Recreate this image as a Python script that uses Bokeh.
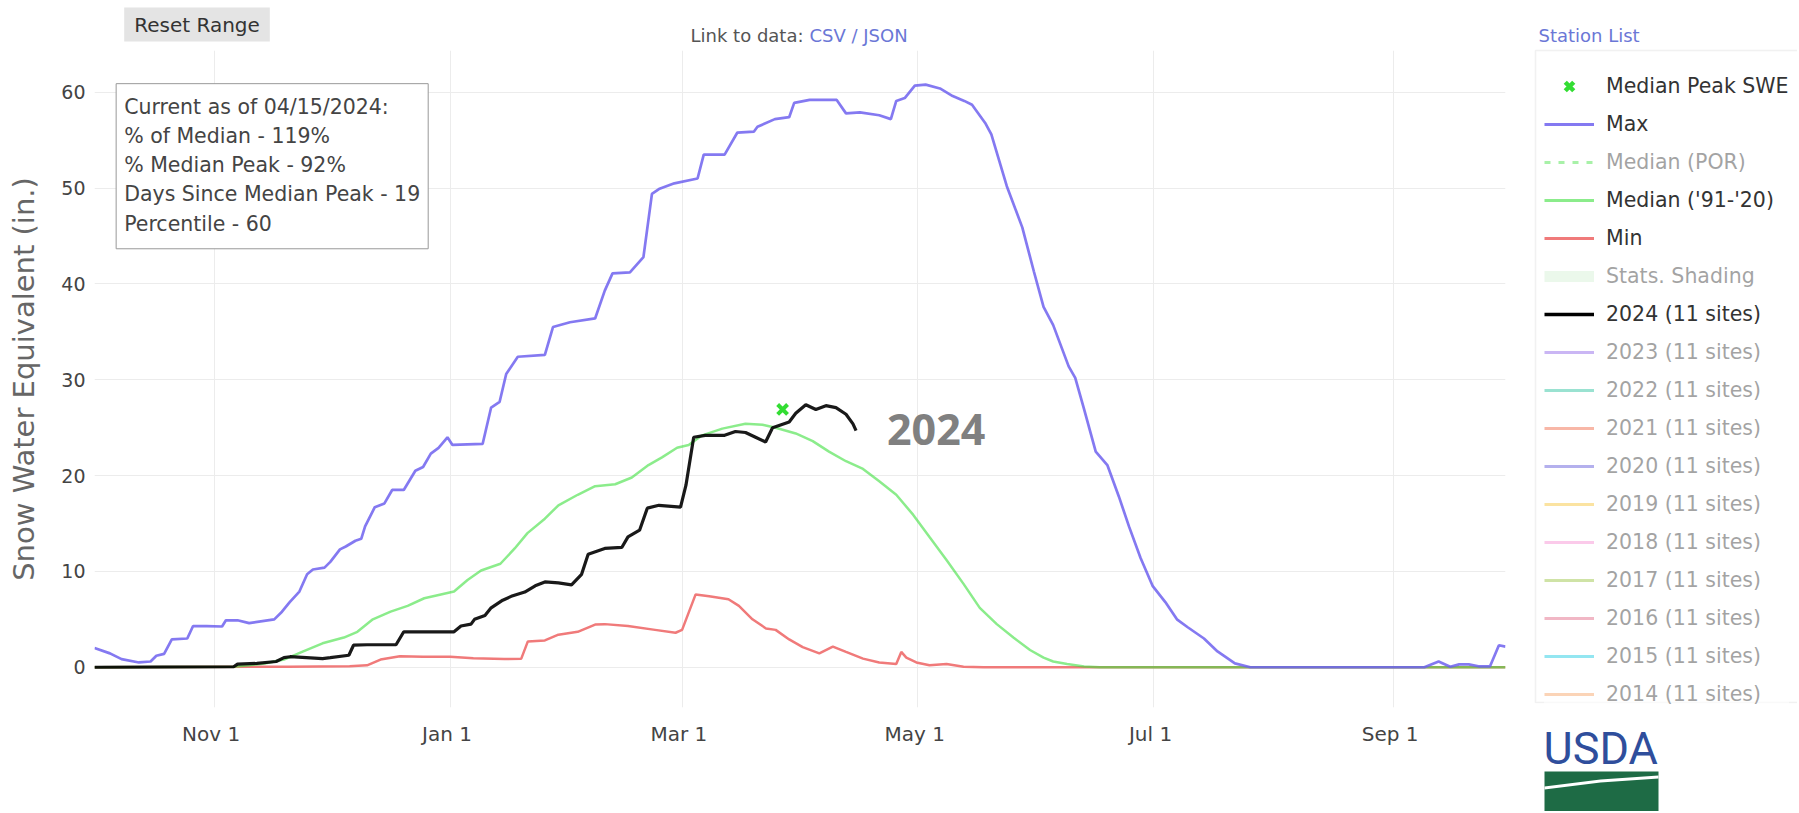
import math
import pandas as pd
from bokeh.plotting import figure
from bokeh.layouts import column, row
from bokeh.models import (Legend, LegendItem, Label, BoxAnnotation, PolyAnnotation, Range1d,
                          MonthsTicker, SingleIntervalTicker, DatetimeTickFormatter)
from bokeh.embed import file_html
from bokeh.resources import INLINE

# ---------------- data (days since start of water year, SWE in inches) ----------------
WY_START = "2023-10-01"
WY_END = "2024-09-30"

max_day = [0, 4, 7, 11.5, 14.5, 16, 18, 20, 24, 25.5, 29, 33, 34, 37, 40, 46.5, 48.5, 50.5, 53, 55,
           56.5, 59.5, 61, 63.5, 65, 67.5, 69, 70, 72.5, 75, 77, 80, 83, 85, 87, 89, 91.3, 92.6,
           100.4, 102.6, 104.8, 106.5, 109.5, 116.5, 118.6, 123, 129.5, 132, 134, 138.5, 142,
           144.2, 146, 150, 156, 157.6, 163, 166.3, 170.6, 171.5, 176, 179.7, 181, 185, 192,
           194.4, 198, 203, 206, 207.4, 209.6, 212.2, 215, 218.7, 222, 225, 227, 230.4, 232, 236,
           240, 243, 245.5, 248, 252, 253.7, 256, 259, 262, 265, 267.6, 270.6, 273.7, 277, 280,
           282.7, 287, 290.5, 295, 299, 344, 347.7, 350.7, 353, 355.5, 358, 361, 363.3, 365]
max_swe = [2.0, 1.45, 0.85, 0.5, 0.6, 1.2, 1.4, 2.9, 3.0, 4.3, 4.3, 4.25, 4.9, 4.9, 4.6, 5.0, 5.8,
           6.8, 7.9, 9.7, 10.2, 10.4, 11.0, 12.3, 12.6, 13.2, 13.4, 14.7, 16.7, 17.1, 18.5, 18.5,
           20.5, 20.9, 22.3, 22.9, 24.0, 23.2, 23.3, 27.1, 27.7, 30.6, 32.4, 32.6, 35.5, 36.0,
           36.4, 39.3, 41.1, 41.2, 42.8, 49.4, 49.9, 50.5, 51.0, 53.5, 53.5, 55.8, 55.9, 56.4,
           57.2, 57.4, 58.9, 59.2, 59.2, 57.8, 57.9, 57.6, 57.2, 59.1, 59.4, 60.7, 60.8, 60.4,
           59.6, 59.1, 58.7, 56.8, 55.6, 50.2, 45.9, 41.3, 37.6, 35.7, 31.4, 30.2, 26.9, 22.5,
           21.1, 17.8, 14.7, 11.4, 8.5, 6.8, 5.0, 4.2, 3.0, 1.65, 0.4, 0, 0, 0.6, 0.05, 0.3, 0.3,
           0.1, 0.1, 2.3, 2.15]

median_day = [0, 36, 40, 44, 49, 54, 59, 64.5, 68, 72, 76.6, 81, 85.3, 89.6, 93, 96.5, 100, 105,
              108.7, 112, 116.5, 120, 125, 129.5, 134.7, 139, 143.3, 146.8, 150.7, 153.7, 157.2,
              162.4, 168.4, 172.8, 176.2, 181.4, 185.8, 190, 194.4, 198.8, 203, 207.4, 211.8, 216,
              220.4, 224.8, 229, 233.4, 237.7, 242, 245.5, 248, 251.6, 256, 260, 365]
median_swe = [0, 0.05, 0.2, 0.4, 0.8, 1.65, 2.5, 3.1, 3.7, 5.0, 5.8, 6.4, 7.2, 7.6, 7.9, 9.1, 10.1,
              10.8, 12.4, 14.0, 15.5, 16.9, 18.0, 18.9, 19.1, 19.8, 21.1, 21.9, 22.9, 23.2, 24.2,
              24.9, 25.4, 25.3, 25.0, 24.4, 23.6, 22.5, 21.5, 20.7, 19.4, 18.0, 15.9, 13.6, 11.2,
              8.7, 6.2, 4.5, 3.1, 1.8, 1.0, 0.6, 0.33, 0.08, 0, 0]

min_day = [0, 50, 66, 70.5, 74, 79, 85, 92, 98, 106, 110.4, 112.1, 116.5, 120, 125, 129.5, 132,
           138, 145, 150.3, 152, 155.5, 159, 164, 166.7, 170.2, 173.7, 176.2, 179.7, 183.2, 187.5,
           191, 194.4, 198.8, 203, 207.4, 208.7, 210, 212.6, 216, 220.4, 224.8, 230, 365]
min_swe = [0, 0.05, 0.1, 0.2, 0.8, 1.15, 1.1, 1.1, 0.95, 0.85, 0.9, 2.7, 2.8, 3.4, 3.7, 4.45, 4.5,
           4.3, 3.9, 3.6, 3.9, 7.6, 7.4, 7.1, 6.4, 5.0, 4.05, 3.9, 2.9, 2.1, 1.45, 2.15, 1.6, 0.9,
           0.5, 0.33, 1.6, 1.0, 0.5, 0.2, 0.33, 0.05, 0, 0]

wy2024_day = [0, 36, 37, 42, 47, 49, 50.6, 59, 61, 65.8, 67, 70.5, 78, 80, 93, 94.8, 97.4, 98.3,
              101, 102.6, 105.6, 107.8, 111.3, 114, 116.5, 120, 123.4, 126, 127.7, 132, 136.4,
              138, 141, 143, 146, 151.6, 153, 155, 158, 163, 165.8, 168.4, 171, 173.6, 175.4,
              179.7, 181.4, 184, 186.6, 189.2, 191.8, 194.4, 196.2, 197]
wy2024_swe = [0, 0.05, 0.33, 0.4, 0.6, 1.0, 1.1, 0.9, 1.0, 1.25, 2.3, 2.35, 2.35, 3.7, 3.7, 4.3,
              4.5, 5.0, 5.4, 6.2, 7.0, 7.4, 7.85, 8.5, 8.9, 8.8, 8.6, 9.7, 11.8, 12.4, 12.5, 13.6,
              14.3, 16.6, 16.9, 16.7, 19.0, 24.0, 24.2, 24.2, 24.6, 24.5, 24.0, 23.5, 25.0, 25.6,
              26.5, 27.4, 26.9, 27.3, 27.1, 26.4, 25.4, 24.7]

peak_day = [178]
peak_swe = [26.9]

hidden_years = ["2023", "2022", "2021", "2020", "2019", "2018", "2017", "2016", "2015", "2014"]
hidden_year_colors = ["#8a5ee6", "#1fbf9a", "#f0603c", "#5a50d8", "#f5c030", "#f58ad0",
                      "#94c23a", "#e0607f", "#10c8e0", "#f5a060"]

stats_lines = ["Current as of 04/15/2024:", "% of Median - 119%", "% Median Peak - 92%",
               "Days Since Median Peak - 19", "Percentile - 60"]

Y_MIN, Y_MAX = -4.2, 64.36

# ---------------- layout (page pixels) ----------------
TOTAL_W, TOTAL_H = 1797, 811
HEAD_H = 50
MAIN_W = 1520
SIDE_W = TOTAL_W - MAIN_W
BODY_H = TOTAL_H - HEAD_H
B_LEFT, B_RIGHT = 94, 15
FONT = "DejaVu Sans"
NAN = [math.nan]

C_MAX, C_MED, C_MIN, C_PEAK = "#6e62ee", "#3ee03e", "#f07a7a", "#33dd33"

t0 = pd.Timestamp(WY_START)
t1 = pd.Timestamp(WY_END)


def to_dates(days):
    return (t0 + pd.to_timedelta(days, unit="D")).to_numpy()


def bare(fig):
    fig.outline_line_color = None
    fig.grid.visible = False
    fig.background_fill_color = "white"
    fig.border_fill_color = "white"
    return fig


# ---------------- header strip (its frame lines up with the chart frame) ----------------
head = bare(figure(width=MAIN_W, height=HEAD_H, output_backend="svg", toolbar_location=None,
                   x_axis_location=None, y_axis_location=None, min_border=0,
                   x_range=Range1d(B_LEFT, MAIN_W - B_RIGHT), y_range=Range1d(0, HEAD_H)))


def hy(page_y):
    return HEAD_H - page_y


head.add_layout(Label(x=196.5, y=hy(24), text="Reset Range", text_align="center",
                      text_baseline="middle", text_font=FONT, text_font_size="20px",
                      text_color="#333333", background_fill_color="#e4e4e4",
                      padding=dict(left=10, right=10, top=5, bottom=5)))
head.add_layout(Label(x=690, y=hy(35), text="Link to data:", text_align="left",
                      text_baseline="middle", text_font=FONT, text_font_size="18px",
                      text_color="#555555"))
head.add_layout(Label(x=809, y=hy(35), text="CSV / JSON", text_align="left",
                      text_baseline="middle", text_font=FONT, text_font_size="18px",
                      text_color="#6b77d6"))

# ---------------- main chart ----------------
p = figure(width=MAIN_W, height=BODY_H, x_axis_type="datetime", output_backend="svg",
           toolbar_location=None, min_border_left=B_LEFT, min_border_right=B_RIGHT,
           min_border_top=0, min_border_bottom=BODY_H - 657,
           x_range=Range1d(t0, t1), y_range=Range1d(Y_MIN, Y_MAX))
p.outline_line_color = None
p.background_fill_color = "white"
p.border_fill_color = "white"

p.xaxis.ticker = MonthsTicker(months=[0, 2, 4, 6, 8, 10])
p.xaxis.formatter = DatetimeTickFormatter(months="%b %e", days="%b %e", years="%b %e")
p.yaxis.ticker = SingleIntervalTicker(interval=10)
for ax in (p.xaxis[0], p.yaxis[0]):
    ax.axis_line_color = None
    ax.major_tick_line_color = None
    ax.minor_tick_line_color = None
    ax.major_tick_out = 0
    ax.major_tick_in = 0
    ax.major_label_text_font = FONT
    ax.major_label_text_color = "#444444"
p.xaxis.major_label_text_font_size = "20px"
p.yaxis.major_label_text_font_size = "19px"
p.xaxis.major_label_standoff = 14
p.yaxis.major_label_standoff = 5
p.yaxis.axis_label = "Snow Water Equivalent (in.)"
p.yaxis.axis_label_text_font = FONT
p.yaxis.axis_label_text_font_size = "29px"
p.yaxis.axis_label_text_font_style = "normal"
p.yaxis.axis_label_text_color = "#666666"
p.yaxis.axis_label_standoff = 17
p.grid.grid_line_color = "#ececec"
p.grid.grid_line_width = 1

p.line(to_dates(min_day), min_swe, line_color=C_MIN, line_width=2.5)
p.line(to_dates(median_day), median_swe, line_color=C_MED, line_alpha=0.6, line_width=2.5)
p.line(to_dates(max_day), max_swe, line_color=C_MAX, line_alpha=0.85, line_width=2.7)
p.line(to_dates(wy2024_day), wy2024_swe, line_color="black", line_alpha=0.9, line_width=3.2)
p.scatter(to_dates(peak_day), peak_swe, marker="x", size=14, line_width=4, line_color=C_PEAK)

p.add_layout(Label(x=to_dates([5.6])[0], y=60.9, text="\n".join(stats_lines), text_align="left",
                   text_baseline="top", text_font=FONT, text_font_size="20.5px",
                   text_color="#444444", text_line_height=1.22, background_fill_color="white",
                   border_line_color="#999999", border_line_width=1,
                   padding=dict(left=8, right=8, top=11, bottom=13)))
p.add_layout(Label(x=to_dates([205])[0], y=24.8, text="2024", text_align="left",
                   text_baseline="middle", text_font="Open Sans", text_font_size="43px",
                   text_font_style="bold", text_color="#808080"))

# ---------------- side panel: station list, legend box, logo ----------------
q = bare(figure(width=SIDE_W, height=TOTAL_H, output_backend="svg", toolbar_location=None,
                x_axis_location=None, y_axis_location=None, min_border=0,
                x_range=Range1d(0, SIDE_W), y_range=Range1d(0, TOTAL_H)))


def qx(page_x):
    return page_x - MAIN_W


def qy(page_y):
    return TOTAL_H - page_y


q.add_layout(Label(x=qx(1538), y=qy(35), text="Station List", text_align="left",
                   text_baseline="middle", text_font=FONT, text_font_size="18px",
                   text_color="#6b77d6"))
q.add_layout(BoxAnnotation(left=qx(1535), right=qx(1830), top=qy(50), bottom=qy(702),
                           fill_color="white", fill_alpha=1, line_color="#d2d2d2",
                           line_width=1.5))

# legend keys (NaN data: they only draw the legend keys)
k_peak = q.scatter(NAN, NAN, marker="x", size=15, line_width=4.5, line_color=C_PEAK)
k_max = q.line(NAN, NAN, line_color=C_MAX, line_alpha=0.85, line_width=3)
k_por = q.line(NAN, NAN, line_color=C_MED, line_width=3, line_dash="6 8")
k_med = q.line(NAN, NAN, line_color=C_MED, line_alpha=0.6, line_width=3)
k_min = q.line(NAN, NAN, line_color=C_MIN, line_width=3)
k_shade = q.line(NAN, NAN, line_color="#d2f0d2", line_width=11)
k_2024 = q.line(NAN, NAN, line_color="black", line_width=3.5)
k_years = [q.line(NAN, NAN, line_color=c, line_width=3) for c in hidden_year_colors]
k_off = q.line(NAN, NAN, line_alpha=0, visible=False)  # marks series switched off

items = [LegendItem(label="Median Peak SWE", renderers=[k_peak]),
         LegendItem(label="Max", renderers=[k_max]),
         LegendItem(label="Median (POR)", renderers=[k_por, k_off]),
         LegendItem(label="Median ('91-'20)", renderers=[k_med]),
         LegendItem(label="Min", renderers=[k_min]),
         LegendItem(label="Stats. Shading", renderers=[k_shade, k_off]),
         LegendItem(label="2024 (11 sites)", renderers=[k_2024])]
for yr, k in zip(hidden_years, k_years):
    items.append(LegendItem(label=f"{yr} (11 sites)", renderers=[k, k_off]))

legend = Legend(items=items, location=(qx(1544), qy(709)), margin=0, padding=10, spacing=8,
                glyph_width=50, glyph_height=30, label_height=30, label_standoff=12,
                label_text_font=FONT, label_text_font_size="20.5px", label_text_color="#333333",
                border_line_color=None, background_fill_alpha=0, click_policy="hide",
                inactive_fill_color="white", inactive_fill_alpha=0.55)
q.add_layout(legend)

q.add_layout(BoxAnnotation(left=qx(1530), right=qx(1830), top=qy(703), bottom=qy(724),
                           fill_color="white", fill_alpha=1, line_color=None))

# USDA logo
q.add_layout(Label(x=qx(1543), y=qy(748), text="USDA", text_align="left",
                   text_baseline="middle", text_font="Roboto", text_font_size="45px",
                   text_color="#2f4e9c"))
q.add_layout(BoxAnnotation(left=qx(1544), right=qx(1658), top=qy(771), bottom=qy(830),
                           fill_color="#1e6b45", fill_alpha=1, line_color=None))
q.add_layout(PolyAnnotation(xs=[qx(v) for v in (1544, 1600, 1658, 1658, 1600, 1544)],
                            ys=[qy(v) for v in (786, 779, 775, 778, 782, 789)],
                            fill_color="white", fill_alpha=1, line_color=None))

layout = row(column(head, p, spacing=0), q, spacing=0)
open("out.html", "w").write(file_html(layout, INLINE))
